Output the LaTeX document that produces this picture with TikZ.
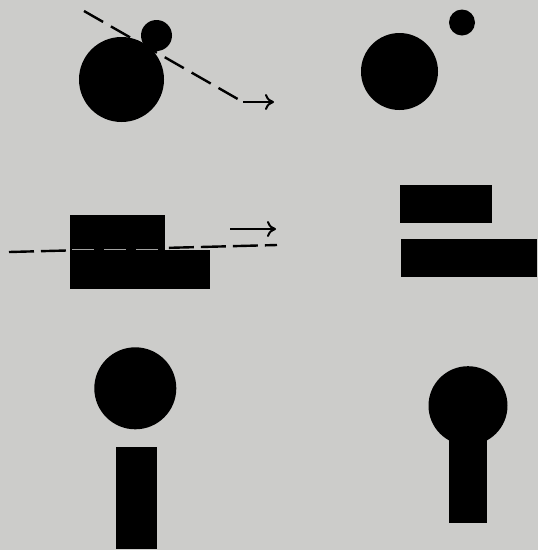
\documentclass[tikz,border=0pt]{standalone}
\usetikzlibrary{arrows.meta, positioning}
\definecolor{paper}{RGB}{204,204,202}

\begin{document}
\begin{tikzpicture}[
        x=1pt, y=-1pt,
        blob/.style={fill=black},
        cutline/.style={line width=2.4pt, dash pattern=on 22pt off 9pt, draw=black},
        arrow/.style={-{To[length=9pt, width=16pt, line width=2pt]}, line width=2.4pt, draw=black}
    ]
    % Paper
    \fill[paper] (0,0) rectangle (538,550);
    \useasboundingbox (0,0) rectangle (538,550);

    % Top left: circles cut by a line
    \fill[blob] (121.5,79.5) circle (42.5);
    \fill[blob] (156.5,35.5) circle (15.5);
    \coordinate (cutA) at (84,11);
    \coordinate (cutB) at (243,102);
    \coordinate (cutC) at (274,102);
    \draw [cutline] (cutA) -- (cutB);
    \draw [arrow] (cutB) -- (cutC);

    % Top right: circles apart
    \fill[blob] (399.5,71.5) circle (38.5);
    \fill[blob] (462,22.5) circle (13);

    % Middle left: bars cut by a line
    \fill[blob] (70,215) rectangle (165,251);
    \fill[blob] (70,250) rectangle (210,289);
    \coordinate (cutD) at (9,252);
    \coordinate (cutE) at (277,245);
    \draw [cutline, dash pattern=on 25pt off 7pt] (cutD) -- (cutE);
    \draw [paper!80!black, line width=1.4pt, dash pattern=on 22pt off 10pt] (72,249.5) -- (164,249.5);
    \coordinate (moveA) at (230,229);
    \coordinate (moveB) at (276,229);
    \draw [arrow] (moveA) -- (moveB);

    % Middle right: bars apart
    \fill[blob] (400,185) rectangle (491.5,222.5);
    \fill[blob] (401,239) rectangle (537,277);

    % Bottom left: dot over stem
    \fill[blob] (135.3,388.3) circle (41);
    \fill[blob] (115.7,446.7) rectangle (156.7,549);

    % Bottom right: dot joined to stem
    \fill[blob] (468,405.7) circle (39.5);
    \fill[blob] (449.3,430) rectangle (487.3,523.3);
\end{tikzpicture}
\end{document}
